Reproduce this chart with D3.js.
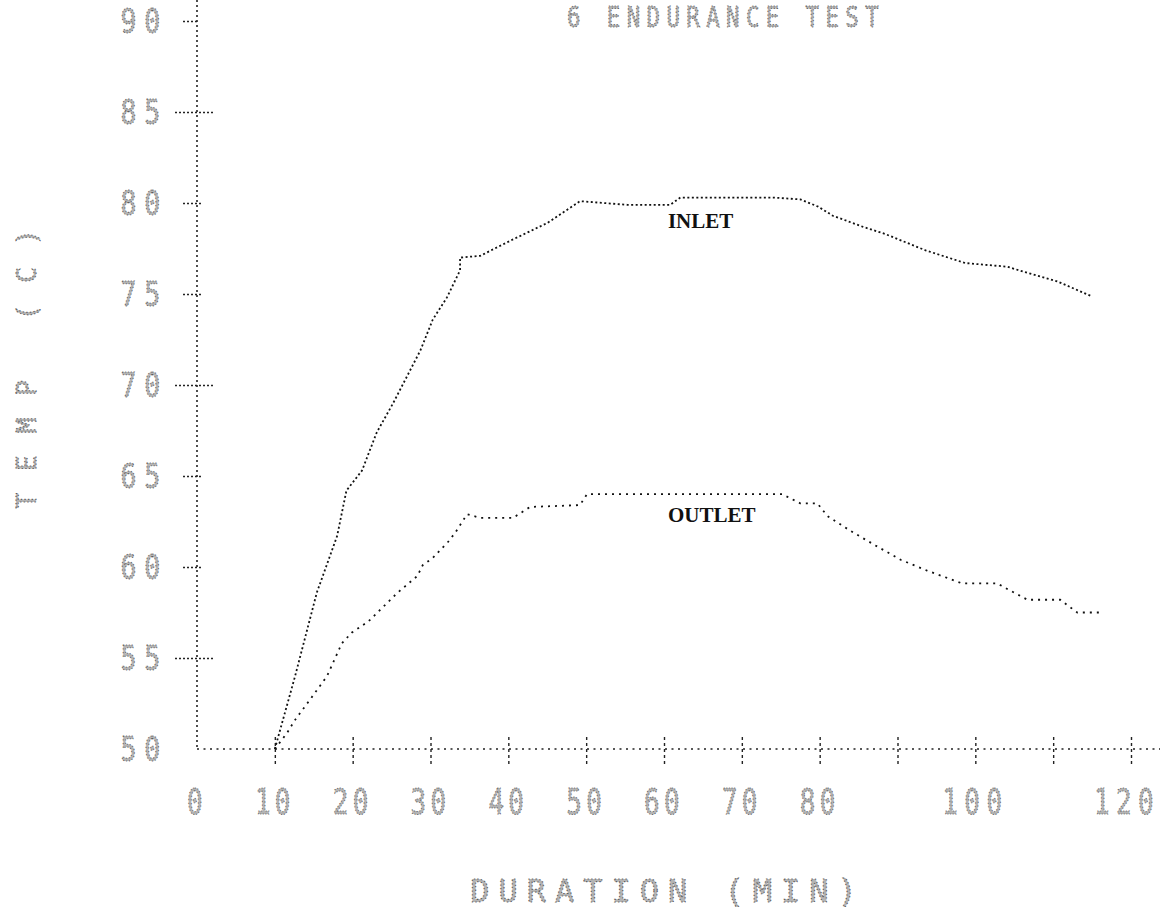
<!DOCTYPE html>
<html>
<head>
<meta charset="utf-8">
<script src="https://cdn.jsdelivr.net/npm/d3@7"></script>
<style>
  html, body { margin: 0; padding: 0; background: #fff; }
  svg { display: block; }
</style>
</head>
<body>
<svg id="chart" width="1162" height="924"></svg>
<script>
// ---- data ----
const titleText = "6 ENDURANCE TEST";
const xTitle = "DURATION (MIN)";
const yTitle = "TEMP (C)";

const xTickValues = [10, 20, 30, 40, 50, 60, 70, 80, 90, 100, 110, 120];
const xTickLabels = [0, 10, 20, 30, 40, 50, 60, 70, 80, 100, 120];
const yTickValues = [50, 55, 60, 65, 70, 75, 80, 85, 90];
const yMajorTicks = [55, 70, 85];

const inletTime = [10, 12.6, 15.4, 18, 19.2, 21.2, 23.1, 25.2, 28.7, 30.3, 32.1, 33.8, 33.8, 36.4, 40.6, 45, 49.2, 55.3, 60.8, 62.1, 74, 77.5, 79.8, 81.7, 85.5, 88.4, 93.6, 98.7, 104.1, 106.4, 110.5, 114.8];
const inletTemp = [50, 54, 58.6, 61.7, 64.2, 65.3, 67.4, 69, 71.9, 73.6, 74.8, 76.3, 77, 77.1, 78, 78.9, 80.1, 79.9, 79.9, 80.3, 80.3, 80.2, 79.8, 79.3, 78.7, 78.3, 77.4, 76.7, 76.5, 76.2, 75.7, 74.9];

const outletTime = [10, 11.6, 12.6, 14.5, 16.7, 18.6, 19.9, 22, 23.9, 25.8, 28.3, 29, 30.3, 32.3, 33.2, 34.7, 36.4, 40.6, 42.8, 49.2, 50.1, 54.4, 64.7, 73.3, 75.2, 77.5, 79.7, 81, 83.9, 87.1, 90.4, 93.8, 98.3, 102.8, 104.5, 106.7, 110.9, 113.1, 116.5];
const outletTemp = [50, 50.9, 51.6, 52.7, 54, 55.8, 56.4, 57, 57.8, 58.6, 59.5, 60.1, 60.5, 61.4, 61.9, 62.9, 62.7, 62.7, 63.3, 63.4, 64, 64, 64, 64, 64, 63.5, 63.5, 62.8, 62, 61.2, 60.4, 59.8, 59.1, 59.1, 58.7, 58.2, 58.2, 57.5, 57.5];

const seriesLabels = ["INLET", "OUTLET"];
const labelAt = [[60.5, 78.6], [60.5, 62.5]];

// ---- layout ----
const svg = d3.select("#chart");
const x = d3.scaleLinear().domain([0, 120]).range([197, 1131]);
const y = d3.scaleLinear().domain([50, 90]).range([749, 21]);

const dotText = sel => sel
  .attr("fill", "#b4b4b4")
  .attr("stroke", "#5a5a5a")
  .attr("stroke-width", 1.1)
  .attr("stroke-dasharray", "1.3,2.3")
  .attr("font-family", "DejaVu Sans Mono, monospace");

// axes lines (dotted)
svg.append("line")
  .attr("x1", x(0)).attr("x2", x(0))
  .attr("y1", 0).attr("y2", y(50))
  .attr("stroke", "#222").attr("stroke-width", 1.6)
  .attr("stroke-dasharray", "2,3");
svg.append("line")
  .attr("x1", x(0)).attr("x2", 1160)
  .attr("y1", y(50)).attr("y2", y(50))
  .attr("stroke", "#222").attr("stroke-width", 1.6)
  .attr("stroke-dasharray", "2,4.5");

// x ticks via d3 axis
const xAxis = d3.axisBottom(x)
  .tickValues(xTickValues)
  .tickSize(28)
  .tickFormat("");
const gx = svg.append("g")
  .attr("transform", `translate(0,${y(50) - 12})`)
  .call(xAxis);
gx.select(".domain").remove();
gx.selectAll(".tick line")
  .attr("stroke", "#222").attr("stroke-width", 1.4)
  .attr("stroke-dasharray", "3,3");

// x tick labels (tall, narrow dot-matrix look)
svg.append("g").selectAll("text")
  .data(xTickLabels)
  .join("text")
  .attr("transform", d => `translate(${x(d) + (d === 120 ? -4 : 0)},814) scale(0.72,1)`)
  .attr("text-anchor", "middle")
  .attr("font-size", 36)
  .attr("letter-spacing", d => d >= 100 ? 9 : 6)
  .text(d => d)
  .call(dotText);

// y ticks
const yAxis = d3.axisLeft(y)
  .tickValues(yTickValues.filter(v => v > 50))
  .tickSize(0)
  .tickFormat("");
const gy = svg.append("g").attr("transform", `translate(${x(0)},0)`).call(yAxis);
gy.select(".domain").remove();
gy.selectAll(".tick").append("line")
  .attr("x1", d => yMajorTicks.includes(d) ? -22 : -14)
  .attr("x2", d => yMajorTicks.includes(d) ? 18 : (d === 90 ? 0 : 6))
  .attr("y1", 0).attr("y2", 0)
  .attr("stroke", "#222").attr("stroke-width", 1.5)
  .attr("stroke-dasharray", "2,2");

// y tick labels
svg.append("g").selectAll("text")
  .data(yTickValues)
  .join("text")
  .attr("transform", d => `translate(168,${y(d) + 12}) scale(0.78,1)`)
  .attr("text-anchor", "end")
  .attr("font-size", 34)
  .attr("letter-spacing", 10)
  .text(d => d)
  .call(dotText);

// curves
const line = d3.line().x(d => x(d[0])).y(d => y(d[1]));
const inlet = inletTime.map((t, i) => [t, inletTemp[i]]);
const outlet = outletTime.map((t, i) => [t, outletTemp[i]]);

svg.append("path")
  .attr("d", line(inlet))
  .attr("fill", "none")
  .attr("stroke", "#111").attr("stroke-width", 1.8)
  .attr("stroke-dasharray", "2,2.5");
svg.append("path")
  .attr("d", line(outlet))
  .attr("fill", "none")
  .attr("stroke", "#111").attr("stroke-width", 1.8)
  .attr("stroke-dasharray", "2,5");

// series labels
svg.append("g").selectAll("text")
  .data(seriesLabels)
  .join("text")
  .attr("x", (d, i) => x(labelAt[i][0]))
  .attr("y", (d, i) => y(labelAt[i][1]))
  .attr("font-family", "Liberation Serif, serif")
  .attr("font-weight", "bold")
  .attr("font-size", 21)
  .attr("fill", "#111")
  .text(d => d);

// title
svg.append("text")
  .attr("transform", "translate(567,27) scale(0.8,1)")
  .attr("font-size", 28)
  .attr("letter-spacing", 8)
  .text(titleText)
  .call(dotText);

// axis titles
svg.append("text")
  .attr("x", 668).attr("y", 902)
  .attr("text-anchor", "middle")
  .attr("font-size", 32)
  .attr("letter-spacing", 9)
  .text(xTitle)
  .call(dotText);

svg.append("text")
  .attr("transform", "translate(36,358) rotate(-90)")
  .attr("text-anchor", "middle")
  .attr("font-size", 26)
  .attr("letter-spacing", 22)
  .text(yTitle)
  .call(dotText);
</script>
</body>
</html>
